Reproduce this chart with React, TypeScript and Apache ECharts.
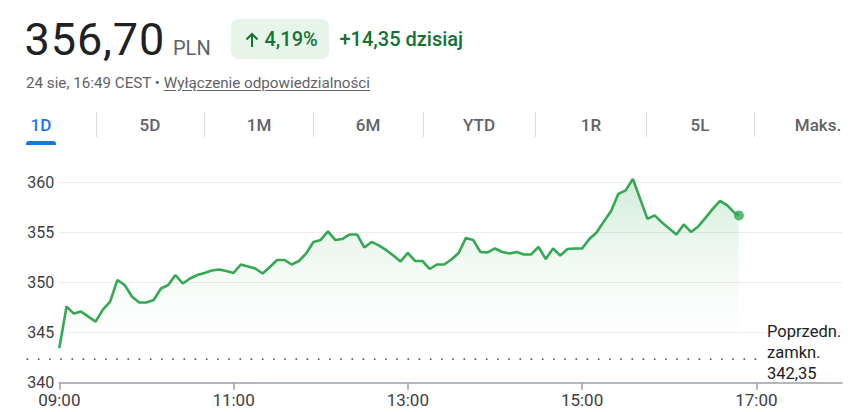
import React, { useEffect, useRef } from "react";
import * as echarts from "echarts";

// ---------- data ----------
const TIMES = [
  "09:00", "09:05", "09:10", "09:15", "09:20", "09:25", "09:30", "09:35", "09:40", "09:45", "09:50", "09:55",
  "10:00", "10:05", "10:10", "10:15", "10:20", "10:25", "10:30", "10:35", "10:40", "10:45", "10:50", "10:55",
  "11:00", "11:05", "11:10", "11:15", "11:20", "11:25", "11:30", "11:35", "11:40", "11:45", "11:50", "11:55",
  "12:00", "12:05", "12:10", "12:15", "12:20", "12:25", "12:30", "12:35", "12:40", "12:45", "12:50", "12:55",
  "13:00", "13:05", "13:10", "13:15", "13:20", "13:25", "13:30", "13:35", "13:40", "13:45", "13:50", "13:55",
  "14:00", "14:05", "14:10", "14:15", "14:20", "14:25", "14:30", "14:35", "14:40", "14:45", "14:50", "14:55",
  "15:00", "15:05", "15:10", "15:15", "15:20", "15:25", "15:30", "15:35", "15:40", "15:45", "15:50", "15:55",
  "16:00", "16:05", "16:10", "16:15", "16:20", "16:25", "16:30", "16:35", "16:40", "16:45", "16:48",
];

const PRICES = [
  343.45, 347.6, 346.9, 347.1, 346.6, 346.1, 347.3, 348.1, 350.25, 349.75, 348.6, 348.0,
  348.0, 348.25, 349.4, 349.75, 350.75, 349.9, 350.4, 350.75, 350.95, 351.2, 351.3, 351.15,
  350.95, 351.8, 351.6, 351.4, 350.9, 351.55, 352.25, 352.25, 351.8, 352.15, 352.9, 354.05,
  354.25, 355.1, 354.25, 354.35, 354.8, 354.8, 353.5, 354.05, 353.7, 353.25, 352.7, 352.1,
  352.95, 352.15, 352.15, 351.35, 351.8, 351.8, 352.3, 352.95, 354.45, 354.25, 353.05, 353.0,
  353.4, 353.05, 352.9, 353.05, 352.8, 352.8, 353.55, 352.35, 353.4, 352.7, 353.35, 353.4,
  353.4, 354.35, 355.0, 356.1, 357.15, 358.85, 359.2, 360.35, 358.35, 356.35, 356.7, 356.0,
  355.4, 354.8, 355.8, 355.05, 355.6, 356.45, 357.35, 358.15, 357.7, 356.95, 356.7,
];

const PREV_CLOSE = 342.35;
const PREV_CLOSE_LABEL = ["Poprzedn.", "zamkn.", "342,35"];
const Y_TICKS = [340, 345, 350, 355, 360];
const X_TICKS = ["09:00", "11:00", "13:00", "15:00", "17:00"];
const X_START = "09:00";
const X_END = "17:59";
const Y_MIN = 340;
const Y_MAX = 362;

const PRICE_TEXT = "356,70";
const CURRENCY = "PLN";
const CHANGE_PCT = "4,19%";
const CHANGE_ABS = "+14,35 dzisiaj";
const TIMESTAMP = "24 sie, 16:49 CEST";
const DISCLAIMER = "Wyłączenie odpowiedzialności";
const TABS = ["1D", "5D", "1M", "6M", "YTD", "1R", "5L", "Maks."];

// ---------- helpers ----------
const absMin = (t: string) => {
  const [h, m] = t.split(":").map(Number);
  return h * 60 + m;
};
const toMin = (t: string) => absMin(t) - absMin(X_START);
const fmtMin = (v: number) => {
  const total = Math.round(v) + absMin(X_START);
  const h = Math.floor(total / 60);
  const m = total % 60;
  return `${String(h).padStart(2, "0")}:${String(m).padStart(2, "0")}`;
};

const FONT = "Roboto, Arial, sans-serif";
const GREEN = "#34a853";

// layout constants
const TAB_CENTERS = [41, 150, 259, 368, 479, 591, 700, 818];
const TAB_SEPS = [95.7, 204.3, 313.3, 423.3, 535.3, 645.7, 754.3];

const baselineTop = (baseline: number, fs: number) => baseline - 0.842 * fs;

export default function App() {
  const ref = useRef<HTMLDivElement>(null);

  useEffect(() => {
    if (!ref.current) return;
    const chart = echarts.init(ref.current, null, { renderer: "svg" });
    const lineData = TIMES.map((t, i) => [toMin(t), PRICES[i]]);
    const last = lineData[lineData.length - 1];

    chart.setOption({
      animation: false,
      grid: { left: 59.3, right: 10, top: 162.3, bottom: 29.3 },
      xAxis: {
        type: "value",
        min: 0,
        max: toMin(X_END),
        interval: 120,
        axisLine: { show: true, lineStyle: { color: "#9aa0a6", width: 1.5 } },
        axisTick: {
          show: true,
          length: 7,
          customValues: X_TICKS.map(toMin),
          lineStyle: { color: "#9aa0a6", width: 1.5 },
        },
        axisLabel: {
          customValues: X_TICKS.map(toMin),
          formatter: (v: number) => fmtMin(v),
          fontSize: 17,
          fontFamily: FONT,
          color: "#3c4043",
          margin: 9,
        },
        splitLine: { show: false },
      },
      yAxis: {
        type: "value",
        min: Y_MIN,
        max: Y_MAX,
        interval: 5,
        axisLine: { show: false },
        axisTick: { show: false },
        axisLabel: {
          customValues: Y_TICKS,
          fontSize: 16,
          fontFamily: FONT,
          color: "#3c4043",
          margin: 5,
        },
        splitLine: {
          show: true,
          showMinLine: false,
          showMaxLine: false,
          lineStyle: { color: "#ececec", width: 1 },
        },
      },
      series: [
        {
          type: "line",
          data: lineData,
          showSymbol: false,
          symbol: "none",
          lineStyle: { color: GREEN, width: 2.6 },
          itemStyle: { color: GREEN },
          areaStyle: {
            color: new echarts.graphic.LinearGradient(0, 0, 0, 1, [
              { offset: 0, color: "rgba(52,168,83,0.32)" },
              { offset: 0.3, color: "rgba(52,168,83,0.14)" },
              { offset: 0.55, color: "rgba(52,168,83,0.05)" },
              { offset: 0.8, color: "rgba(52,168,83,0)" },
            ]),
          },
          z: 3,
        },
        {
          type: "scatter",
          data: [last],
          symbol: "circle",
          symbolSize: 10,
          itemStyle: { color: GREEN },
          z: 4,
        },
      ],
    });

    const yPix = chart.convertToPixel({ yAxisIndex: 0 }, PREV_CLOSE) as number;
    chart.setOption({
      graphic: [
        {
          type: "line",
          shape: { x1: 26.7, y1: yPix, x2: 760, y2: yPix },
          style: { stroke: "#5f6368", lineWidth: 1.6, lineDash: [1.6, 9.6] },
          z: 2,
        },
        {
          type: "text",
          x: 767,
          y: yPix - 7,
          style: {
            text: PREV_CLOSE_LABEL.join("\n"),
            fontSize: 16.5,
            lineHeight: 21,
            fontFamily: FONT,
            fill: "#202124",
            verticalAlign: "middle",
            align: "left",
          },
        },
      ],
    });

    return () => chart.dispose();
  }, []);

  const abs = (s: React.CSSProperties): React.CSSProperties => ({
    position: "absolute",
    whiteSpace: "nowrap",
    fontFamily: FONT,
    ...s,
  });

  const greenText = (left: number, text: string) => (
    <div
      style={abs({
        left,
        top: baselineTop(45.7, 20),
        fontSize: 20,
        lineHeight: "20px",
        color: "#137333",
        fontWeight: 500,
      })}
    >
      {text}
    </div>
  );

  return (
    <div
      style={{
        position: "fixed",
        left: 0,
        top: 0,
        width: 852,
        height: 412,
        background: "#fff",
        overflow: "hidden",
      }}
    >
      <div ref={ref} style={{ position: "absolute", left: 0, top: 0, width: 852, height: 412 }} />

      {/* header */}
      <div
        style={abs({
          left: 24.5,
          top: baselineTop(55, 45),
          fontSize: 45,
          lineHeight: "45px",
          letterSpacing: 0.9,
          color: "#202124",
        })}
      >
        {PRICE_TEXT}
      </div>
      <div style={abs({ left: 173, top: baselineTop(55, 20), fontSize: 20, lineHeight: "20px", color: "#5f6368" })}>
        {CURRENCY}
      </div>
      <div
        style={abs({ left: 231, top: 19, width: 98, height: 40, borderRadius: 8, background: "#e6f4ea" })}
      />
      <svg
        width={14}
        height={16}
        viewBox="0 0 14 16"
        style={{ position: "absolute", left: 244.5, top: 31.5 }}
      >
        <path d="M7 15V2M1.5 7.5L7 2l5.5 5.5" fill="none" stroke="#137333" strokeWidth={2} />
      </svg>
      {greenText(264.5, CHANGE_PCT)}
      {greenText(339.5, CHANGE_ABS)}
      <div
        style={abs({
          left: 26,
          top: baselineTop(88.3, 15.2),
          fontSize: 15.2,
          lineHeight: "15.2px",
          color: "#5f6368",
        })}
      >
        {TIMESTAMP} •{" "}
        <span style={{ textDecoration: "underline", textUnderlineOffset: 2 }}>{DISCLAIMER}</span>
      </div>

      {/* tabs */}
      {TAB_SEPS.map((x, i) => (
        <div key={"sep" + i} style={abs({ left: x, top: 112, width: 1, height: 25, background: "#dadce0" })} />
      ))}
      {TABS.map((t, i) => (
        <div
          key={t}
          style={abs({
            left: TAB_CENTERS[i],
            top: baselineTop(131.7, 17),
            transform: "translateX(-50%)",
            fontSize: 17,
            lineHeight: "17px",
            fontWeight: 500,
            color: i === 0 ? "#1a73e8" : "#5f6368",
          })}
        >
          {t}
        </div>
      ))}
      <div
        style={abs({
          left: 26,
          top: 141,
          width: 30,
          height: 4,
          borderRadius: "3px 3px 0 0",
          background: "#1a73e8",
        })}
      />
    </div>
  );
}
